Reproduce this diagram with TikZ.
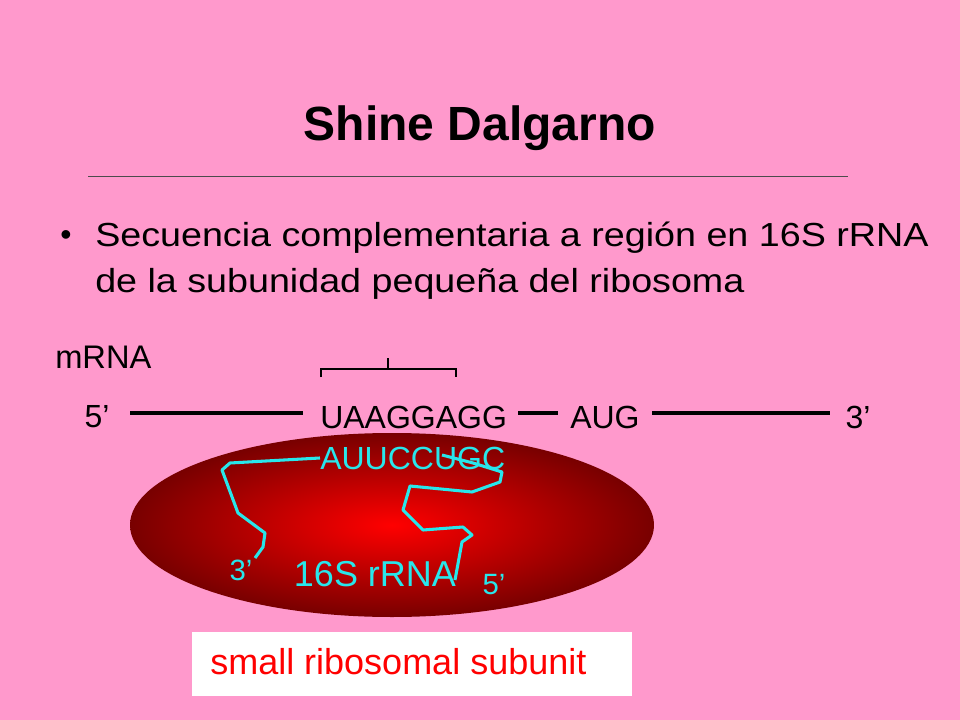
\documentclass[tikz,border=0pt]{standalone}
\usepackage{fontspec}
\setmainfont{Liberation Sans}
\newfontfamily\widefont[FakeStretch=1.13]{Liberation Sans}
\usetikzlibrary{positioning}
\definecolor{slidepink}{RGB}{255,153,204}
\definecolor{rnacyan}{RGB}{40,230,235}
\definecolor{darkred}{RGB}{120,0,0}
\begin{document}
\begin{tikzpicture}[x=0.75pt,y=-0.75pt,
  seq/.style={font=\fontsize{24}{28}\selectfont,inner sep=0pt},
  cyantext/.style={text=rnacyan,inner sep=0pt},
  strand/.style={rnacyan,line width=2.3pt,line join=round}]
%background
\fill[slidepink] (0,0) rectangle (960,720);
\useasboundingbox (0,0) rectangle (960,720);
%title
\node (title) at (480,128) {\fontsize{36}{40}\selectfont\bfseries Shine Dalgarno};
\draw[black!70,line width=0.6pt] (88,176) -- (848,176);
%bullet
\node[anchor=north west,align=left,inner sep=0pt,font=\widefont\fontsize{25}{34}\selectfont] (bullet) at (95,222)
  {Secuencia complementaria a región en 16S rRNA\\ de la subunidad pequeña del ribosoma};
\node[inner sep=0pt,font=\fontsize{24}{28}\selectfont] (dot) at (66,238) {•};
\node[anchor=west,inner sep=0pt,font=\fontsize{24.5}{28}\selectfont] (mrna) at (55,357) {mRNA};
%ribosome
\shade[inner color=red,outer color=darkred] (392,525) ellipse [x radius=262,y radius=92];
%mRNA line
\node[seq] (five) at (97,417) {5’};
\node[seq,anchor=west] (sd) at (320,417) {UAAGGAGG};
\node[seq,anchor=west] (aug) at (570,417) {AUG};
\node[seq] (three) at (858,417) {3’};
\draw[line width=2.3pt] (130,413) -- (303,413);
\draw[line width=2.3pt] (518,413) -- (558,413);
\draw[line width=2.3pt] (652,413) -- (830,413);
%bracket
\draw[line width=1.8pt] (321,377) -- (321,369) -- (456,369) -- (456,377);
\draw[line width=1.2pt] (388,369) -- (388,358);
%16S rRNA
\node[seq,anchor=west,text=rnacyan] (anti) at (320,458) {AUUCCUGC};
\draw[strand] (anti.west) -- (230,463) -- (222,470) -- (238,513) -- (265,533) -- (263,547) -- (255,558);
\draw[strand] (442,455) -- (473,463) -- (502,472) -- (500,482) -- (472,492) -- (410,486) -- (403,510) -- (423,530) -- (463,527) -- (472,535) -- (462,542) -- (455,580);
\node[cyantext,font=\fontsize{22}{24}\selectfont] (three16) at (241,570) {3’};
\node[cyantext,font=\fontsize{27}{30}\selectfont] (name16) at (375,574) {16S rRNA};
\node[cyantext,font=\fontsize{22}{24}\selectfont] (five16) at (494,585) {5’};
%label box
\fill[white] (192,632) rectangle (632,696);
\node[anchor=west,text=red,inner sep=0pt,font=\fontsize{27}{30}\selectfont] (subunit) at (210,662) {small ribosomal subunit};
\end{tikzpicture}
\end{document}
